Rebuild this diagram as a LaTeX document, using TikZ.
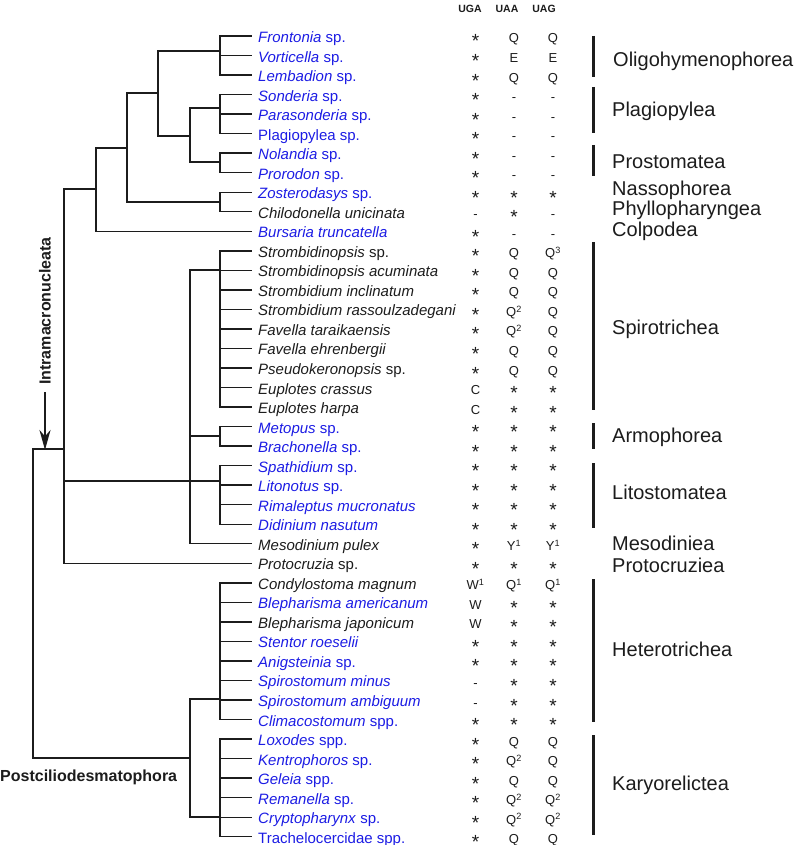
\documentclass[tikz,border=0pt]{standalone}
\usepackage{fontspec}
\setmainfont{Liberation Sans}
\usepackage{tikz}
\usetikzlibrary{positioning,arrows.meta,calc}
\usepackage{xcolor}
\definecolor{taxblue}{RGB}{28,28,228}
\definecolor{ink}{RGB}{28,28,28}
\newcommand{\cstar}{{\fontsize{19}{19}\selectfont\raisebox{-5pt}[10pt][0pt]{*}}}
\newcommand{\Qs}[1]{Q\textsuperscript{#1}}

\begin{document}
\begin{tikzpicture}[x=1pt,y=-1pt,>={Stealth[length=20pt,width=11pt]},
  br/.style={draw=ink,line width=1.4pt},
  bar/.style={draw=ink,line width=3pt},
  taxon/.style={anchor=base west,inner sep=0pt,xshift=6pt,yshift=-6.5pt,font=\fontsize{15}{15}\selectfont},
  code/.style={anchor=base,inner sep=0pt,text=ink,font=\fontsize{13}{13}\selectfont},
  head/.style={anchor=base,inner sep=0pt,text=ink,font=\fontsize{10.5}{10.5}\selectfont\bfseries},
  cls/.style={anchor=base west,inner sep=0pt,text=ink,font=\fontsize{20}{20}\selectfont},
  grp/.style={inner sep=0pt,text=ink,font=\fontsize{16}{16}\selectfont\bfseries}]
\useasboundingbox (0,0) rectangle (800,845);

% codon columns
\node[head] (hUGA) at (470,13) {UGA};
\node[head] (hUAA) at (507,13) {UAA};
\node[head] (hUAG) at (544,13) {UAG};

% taxa with their codon readings
\foreach \i/\nm/\cl/\a/\b/\c in {
  0/{\textit{Frontonia} sp.}/taxblue/\cstar/Q/Q,
  1/{\textit{Vorticella} sp.}/taxblue/\cstar/E/E,
  2/{\textit{Lembadion} sp.}/taxblue/\cstar/Q/Q,
  3/{\textit{Sonderia} sp.}/taxblue/\cstar/-/-,
  4/{\textit{Parasonderia} sp.}/taxblue/\cstar/-/-,
  5/{Plagiopylea sp.}/taxblue/\cstar/-/-,
  6/{\textit{Nolandia} sp.}/taxblue/\cstar/-/-,
  7/{\textit{Prorodon} sp.}/taxblue/\cstar/-/-,
  8/{\textit{Zosterodasys} sp.}/taxblue/\cstar/\cstar/\cstar,
  9/{\textit{Chilodonella unicinata}}/ink/-/\cstar/-,
  10/{\textit{Bursaria truncatella}}/taxblue/\cstar/-/-,
  11/{\textit{Strombidinopsis} sp.}/ink/\cstar/Q/{\Qs{3}},
  12/{\textit{Strombidinopsis acuminata}}/ink/\cstar/Q/Q,
  13/{\textit{Strombidium inclinatum}}/ink/\cstar/Q/Q,
  14/{\textit{Strombidium rassoulzadegani}}/ink/\cstar/{\Qs{2}}/Q,
  15/{\textit{Favella taraikaensis}}/ink/\cstar/{\Qs{2}}/Q,
  16/{\textit{Favella ehrenbergii}}/ink/\cstar/Q/Q,
  17/{\textit{Pseudokeronopsis} sp.}/ink/\cstar/Q/Q,
  18/{\textit{Euplotes crassus}}/ink/C/\cstar/\cstar,
  19/{\textit{Euplotes harpa}}/ink/C/\cstar/\cstar,
  20/{\textit{Metopus} sp.}/taxblue/\cstar/\cstar/\cstar,
  21/{\textit{Brachonella} sp.}/taxblue/\cstar/\cstar/\cstar,
  22/{\textit{Spathidium} sp.}/taxblue/\cstar/\cstar/\cstar,
  23/{\textit{Litonotus} sp.}/taxblue/\cstar/\cstar/\cstar,
  24/{\textit{Rimaleptus mucronatus}}/taxblue/\cstar/\cstar/\cstar,
  25/{\textit{Didinium nasutum}}/taxblue/\cstar/\cstar/\cstar,
  26/{\textit{Mesodinium pulex}}/ink/\cstar/{Y\textsuperscript{1}}/{Y\textsuperscript{1}},
  27/{\textit{Protocruzia} sp.}/ink/\cstar/\cstar/\cstar,
  28/{\textit{Condylostoma magnum}}/ink/{W\textsuperscript{1}}/{\Qs{1}}/{\Qs{1}},
  29/{\textit{Blepharisma americanum}}/taxblue/W/\cstar/\cstar,
  30/{\textit{Blepharisma japonicum}}/ink/W/\cstar/\cstar,
  31/{\textit{Stentor roeselii}}/taxblue/\cstar/\cstar/\cstar,
  32/{\textit{Anigsteinia} sp.}/taxblue/\cstar/\cstar/\cstar,
  33/{\textit{Spirostomum minus}}/taxblue/-/\cstar/\cstar,
  34/{\textit{Spirostomum ambiguum}}/taxblue/-/\cstar/\cstar,
  35/{\textit{Climacostomum} spp.}/taxblue/\cstar/\cstar/\cstar,
  36/{\textit{Loxodes} spp.}/taxblue/\cstar/Q/Q,
  37/{\textit{Kentrophoros} sp.}/taxblue/\cstar/{\Qs{2}}/Q,
  38/{\textit{Geleia} spp.}/taxblue/\cstar/Q/Q,
  39/{\textit{Remanella} sp.}/taxblue/\cstar/{\Qs{2}}/{\Qs{2}},
  40/{\textit{Cryptopharynx} sp.}/taxblue/\cstar/{\Qs{2}}/{\Qs{2}},
  41/{Trachelocercidae spp.}/taxblue/\cstar/Q/Q}{
  \pgfmathsetmacro\yy{36+19.53*\i}
  \coordinate (l\i) at (252,\yy);
  \node[taxon,text=\cl] (t\i) at (l\i) {\nm};
  \node[code] (u\i) at (475.5,\yy+7) {\a};
  \node[code] (v\i) at (514,\yy+7) {\b};
  \node[code] (w\i) at (553,\yy+7) {\c};
}

% branching points
\coordinate (oli) at (220,51);
\coordinate (pla) at (220,108);
\coordinate (pro) at (220,162);
\coordinate (plapro) at (190,136);
\coordinate (ohp) at (158,93);
\coordinate (nph) at (220,202);
\coordinate (cona) at (127,148);
\coordinate (conb) at (96,189);
\coordinate (intra) at (64,449);
\coordinate (spi) at (220,270);
\coordinate (arm) at (220,436);
\coordinate (lit) at (220,481);
\coordinate (sal) at (190,481);
\coordinate (het) at (220,699);
\coordinate (kar) at (220,817);
\coordinate (post) at (190,758);
\coordinate (root) at (33,600);

% tips
\foreach \k in {0,1,2} \draw[br] (oli) |- (l\k);
\foreach \k in {3,4,5} \draw[br] (pla) |- (l\k);
\foreach \k in {6,7} \draw[br] (pro) |- (l\k);
\foreach \k in {8,9} \draw[br] (nph) |- (l\k);
\foreach \k in {11,...,19} \draw[br] (spi) |- (l\k);
\foreach \k in {20,21} \draw[br] (arm) |- (l\k);
\foreach \k in {22,...,25} \draw[br] (lit) |- (l\k);
\foreach \k in {28,...,35} \draw[br] (het) |- (l\k);
\foreach \k in {36,...,41} \draw[br] (kar) |- (l\k);

% inner branches
\draw[br] (plapro) |- (pla) (plapro) |- (pro);
\draw[br] (ohp) |- (oli) (ohp) |- (plapro);
\draw[br] (cona) |- (ohp) (cona) |- (nph);
\draw[br] (conb) |- (cona) (conb) |- (l10);
\draw[br] (sal) |- (spi) (sal) |- (arm) (sal) |- (lit) (sal) |- (l26);
\draw[br] (intra) |- (conb) (intra) |- (sal) (intra) |- (l27);
\draw[br] (post) |- (het) (post) |- (kar);
\draw[br] (root) |- (intra) (root) |- (post);

% subphyla
\node[grp,rotate=90] (imn) at (45,311) {Intramacronucleata};
\coordinate (imtip) at (45,450);
\draw[->,ink,line width=2.5pt,shorten <=7pt] (imn.west) -- (imtip);
\node[grp,anchor=west] (pcd) at (0,777) {Postciliodesmatophora};

% classes
\draw[bar] (593.5,36) -- (593.5,77);
\draw[bar] (593.5,87) -- (593.5,133);
\draw[bar] (593.5,145) -- (593.5,176);
\draw[bar] (593.5,242) -- (593.5,410);
\draw[bar] (593.5,423) -- (593.5,449);
\draw[bar] (593.5,463) -- (593.5,528);
\draw[bar] (593.5,579) -- (593.5,722);
\draw[bar] (593.5,735) -- (593.5,835);
\node[cls] (c1) at (613,67) {Oligohymenophorea};
\node[cls] (c2) at (612,117) {Plagiopylea};
\node[cls] (c3) at (612,168) {Prostomatea};
\node[cls] (c4) at (612,195) {Nassophorea};
\node[cls] (c5) at (612,215) {Phyllopharyngea};
\node[cls] (c6) at (612,236) {Colpodea};
\node[cls] (c7) at (612,334) {Spirotrichea};
\node[cls] (c8) at (612,442) {Armophorea};
\node[cls] (c9) at (612,499) {Litostomatea};
\node[cls] (c10) at (612,550) {Mesodiniea};
\node[cls] (c11) at (612,572) {Protocruziea};
\node[cls] (c12) at (612,656) {Heterotrichea};
\node[cls] (c13) at (612,790) {Karyorelictea};
\end{tikzpicture}
\end{document}
